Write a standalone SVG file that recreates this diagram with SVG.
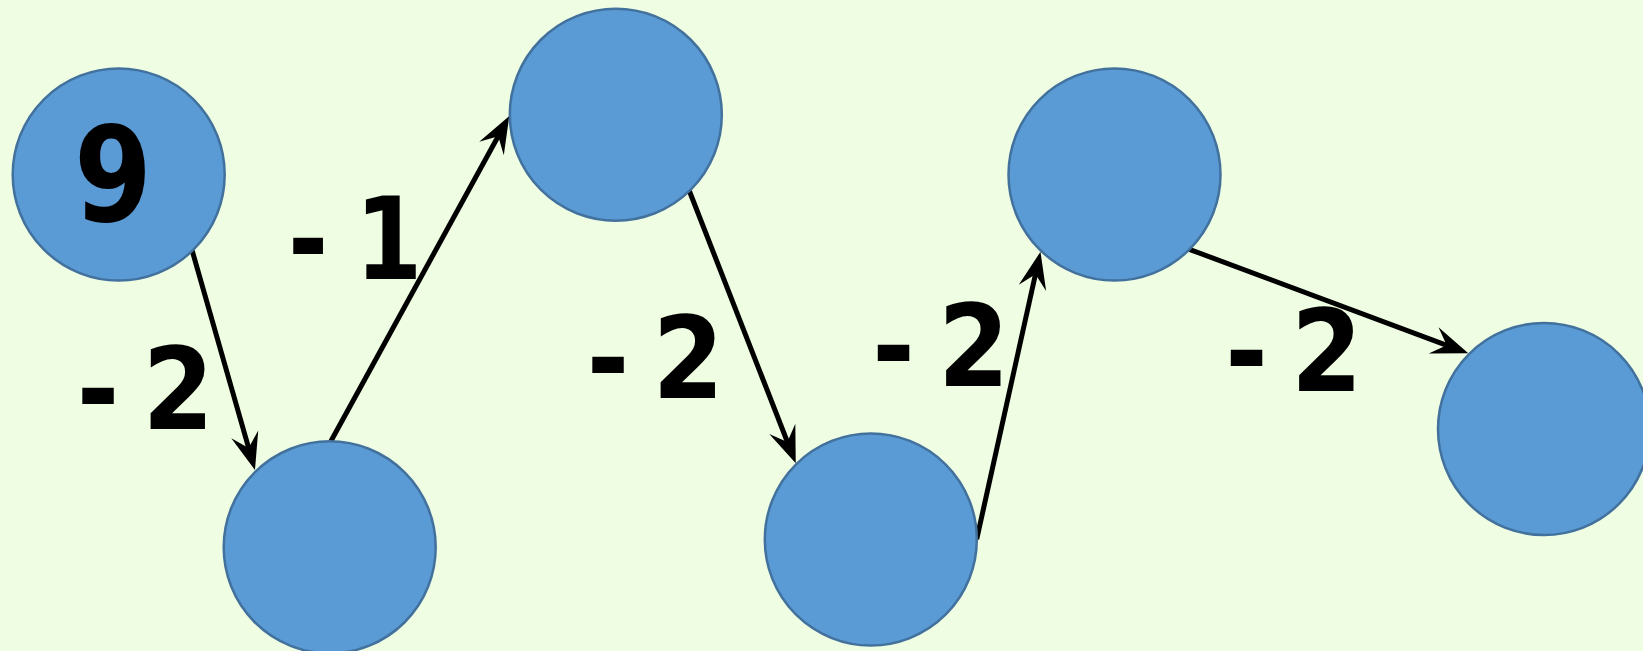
<svg xmlns="http://www.w3.org/2000/svg" width="1643" height="651" viewBox="0 0 1643 651">
<style>
.node{fill:#5B9BD5;stroke:#41719C;stroke-width:2.5}
.edge{fill:none;stroke:#000;stroke-width:5}
.lbl{font-family:"DejaVu Sans","Liberation Sans",sans-serif;font-weight:bold;fill:#000}
.small{font-size:114px;word-spacing:-14px}
.one{font-size:114px;word-spacing:-8px}
.big{font-size:132px}
</style>
<defs>
<marker id="ah" markerUnits="userSpaceOnUse" markerWidth="50" markerHeight="34" viewBox="0 0 50 34" refX="28" refY="17" orient="auto">
<path d="M38,17 L1,3 L15,17 L1,31 Z" fill="#000"/>
</marker>
</defs>
<rect width="1643" height="651" fill="#EFFDE3"/>
<g id="connectors">
<line class="edge" x1="192" y1="250" x2="252.2" y2="460.4" marker-end="url(#ah)"/>
<line class="edge" x1="331" y1="441" x2="504.5" y2="124.8" marker-end="url(#ah)"/>
<line class="edge" x1="689" y1="190" x2="792.1" y2="454" marker-end="url(#ah)"/>
<line class="edge" x1="976.7" y1="539.3" x2="1038.3" y2="261.5" marker-end="url(#ah)"/>
<line class="edge" x1="1189.3" y1="249.3" x2="1458.9" y2="349.8" marker-end="url(#ah)"/>
</g>
<g id="node1"><circle class="node" cx="118.7" cy="174.5" r="106"/><text class="lbl big" transform="translate(113 221) scale(0.85 1)" text-anchor="middle">9</text></g>
<g id="node2"><circle class="node" cx="329.7" cy="547.3" r="106"/></g>
<g id="node3"><circle class="node" cx="615.8" cy="114.7" r="106"/></g>
<g id="node4"><circle class="node" cx="870.8" cy="539.5" r="106"/></g>
<g id="node5"><circle class="node" cx="1114.5" cy="174.5" r="106"/></g>
<g id="node6"><circle class="node" cx="1544" cy="429" r="106"/></g>
<g id="labels">
<text class="lbl small" transform="translate(76.7 428.5) scale(0.9 1)">- 2</text>
<text class="lbl one" transform="translate(287.9 279) scale(0.85 1)">- 1</text>
<text class="lbl small" transform="translate(586.7 398.3) scale(0.9 1)">- 2</text>
<text class="lbl small" transform="translate(872.3 386) scale(0.9 1)">- 2</text>
<text class="lbl small" transform="translate(1225.3 391) scale(0.9 1)">- 2</text>
</g>
</svg>
